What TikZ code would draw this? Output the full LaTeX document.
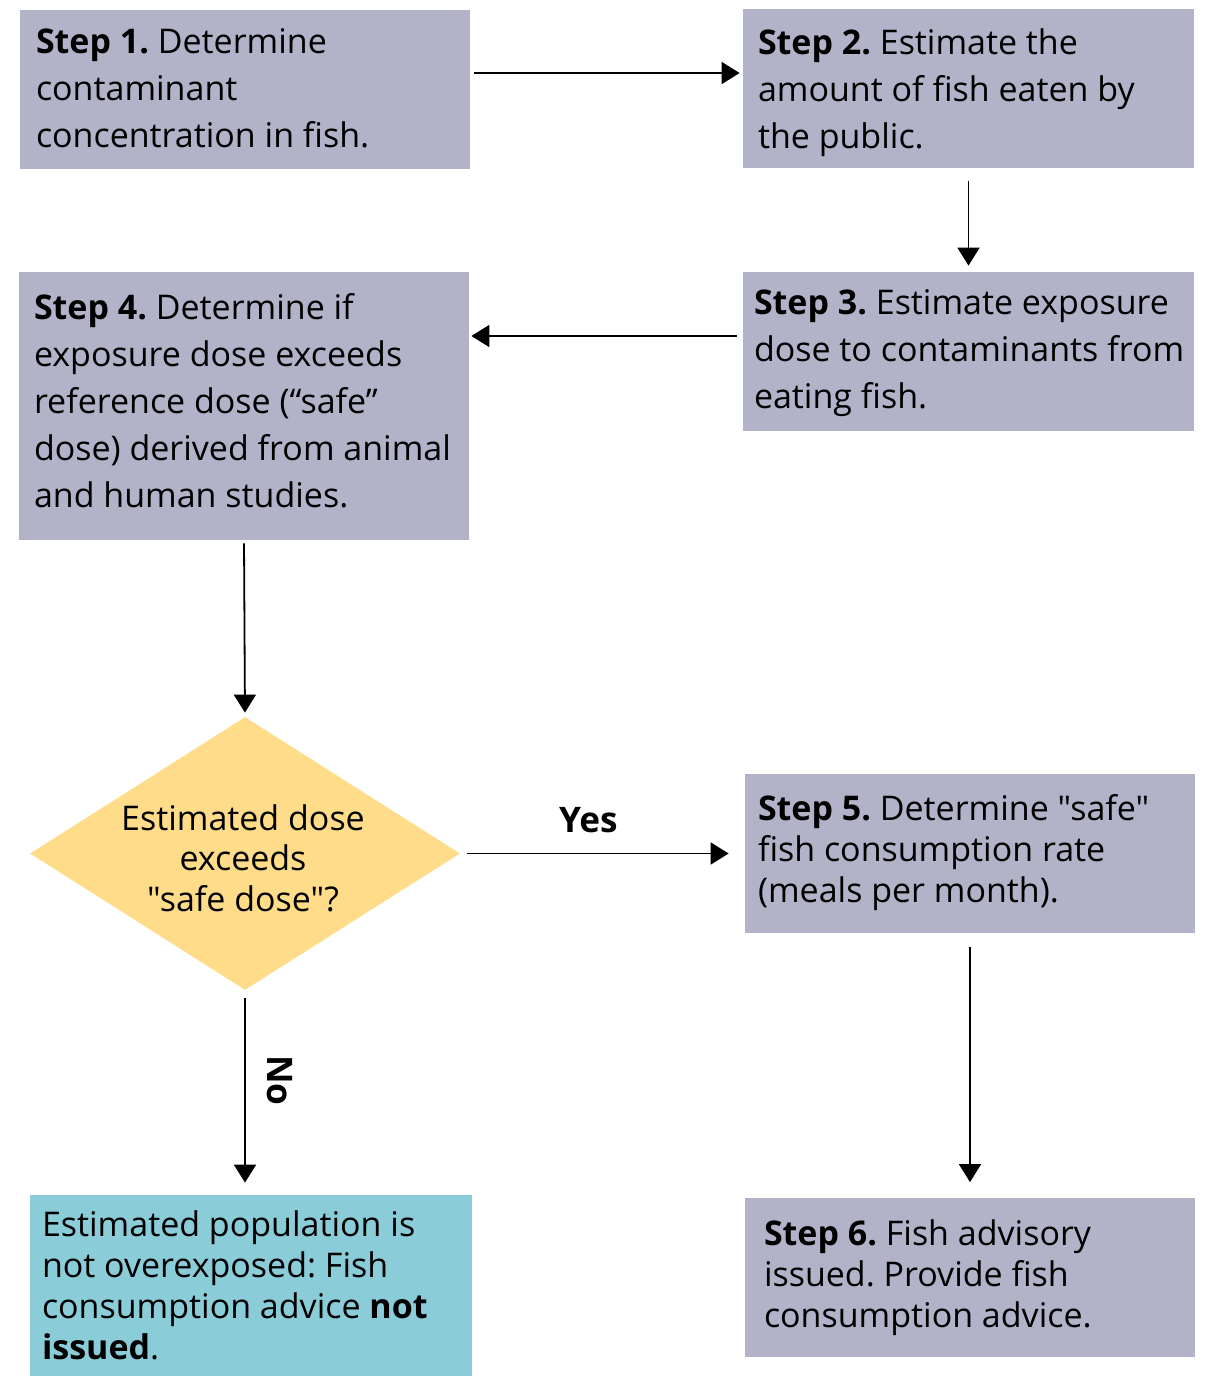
\documentclass[tikz,border=0pt]{standalone}
\usepackage{fontspec}
\setmainfont{Open Sans}[Ligatures=TeXOff]
\usetikzlibrary{shapes.geometric,arrows.meta,calc}
\definecolor{boxgray}{HTML}{B2B3C9}
\definecolor{diayellow}{HTML}{FEDC89}
\definecolor{boxteal}{HTML}{8BCCD9}
\begin{document}
\frenchspacing
\begin{tikzpicture}[x=0.5pt,y=-0.5pt,
  rect/.style={rectangle,fill=boxgray,minimum width=225pt,minimum height=79.5pt,inner sep=0pt},
  uptext/.style={anchor=west,align=left,inner sep=0pt,
     font=\fontsize{17pt}{23.5pt}\selectfont\frenchspacing},
  lowtext/.style={anchor=west,align=left,inner sep=0pt,
     font=\fontsize{17pt}{20.5pt}\selectfont\frenchspacing},
  lbl/.style={font=\fontsize{17.6pt}{20pt}\selectfont\bfseries,inner sep=0pt},
  arr/.style={-{Triangle[length=9pt,width=11pt]},line width=0.9pt,black}]
\path[use as bounding box] (0,0) rectangle (1207,1376);
% boxes
\node[rect] (b1) at (245,89) {};
\node[rect,minimum width=225.5pt] (b2) at (968.5,88.5) {};
\node[rect,minimum width=225.5pt] (b3) at (968.5,351.5) {};
\node[rect,minimum height=134pt] (b4) at (244,406) {};
\node[rect] (b5) at (970,853.5) {};
\node[rect] (b6) at (970,1277) {};
\node[rect,fill=boxteal,minimum width=221pt,minimum height=90.5pt] (b7) at (251,1285.5) {};
% box texts
\node[uptext] (t1) at ([xshift=8pt,yshift=0.25pt]b1.west)
  {\textbf{Step 1.} Determine\\contaminant\\concentration in fish.};
\node[uptext] (t2) at ([xshift=7.5pt,yshift=-2.25pt]b2.west)
  {\textbf{Step 2.} Estimate the\\amount of fish eaten by\\the public.};
\node[uptext] (t3) at ([xshift=5.5pt,yshift=-1pt]b3.west)
  {\textbf{Step 3.} Estimate exposure\\dose to contaminants from\\eating fish.};
\node[uptext] (t4) at ([xshift=7.5pt,yshift=2.5pt]b4.west)
  {\textbf{Step 4.} Determine if\\exposure dose exceeds\\reference dose (“safe”\\dose) derived from animal\\and human studies.};
\node[lowtext] (t5) at ([xshift=6.5pt,yshift=0.25pt]b5.west)
  {\textbf{Step 5.} Determine "safe"\\fish consumption rate\\(meals per month).};
\node[lowtext] (t6) at ([xshift=9.5pt,yshift=-0.5pt]b6.west)
  {\textbf{Step 6.} Fish advisory\\issued. Provide fish\\consumption advice.};
\node[lowtext] (t7) at ([xshift=6pt]b7.west)
  {Estimated population is\\not overexposed: Fish\\consumption advice \textbf{not}\\\textbf{issued}.};
% decision
\node[diamond,fill=diayellow,aspect=1.575,minimum width=215pt,minimum height=136.5pt,inner sep=0pt] (dia) at (245,853.5) {};
\node[align=center,font=\fontsize{17pt}{20.25pt}\selectfont,inner sep=0pt] (diatext) at (243,858)
  {Estimated dose\\exceeds\\"safe dose"?};
% connectors
\coordinate (a1) at ([yshift=8pt]b1.east);
\draw[arr,shorten <=2pt,shorten >=1.5pt] (a1) -- (a1 -| b2.west);
\draw[arr,shorten <=6.5pt,shorten >=3pt] (b2.south) -- (b3.north);
\coordinate (a3) at ([yshift=7.75pt]b3.west);
\draw[arr,shorten <=3pt,shorten >=1pt] (a3) -- (a3 -| b4.east);
\draw[arr,shorten <=1.5pt,shorten >=2pt] (b4.south) -- (dia.north);
\draw[arr,shorten <=3.5pt,shorten >=8pt] (dia.east) -- node[lbl,above=10pt,pos=0.45] (yes) {Yes} (b5.west);
\draw[arr,shorten <=4pt,shorten >=6pt] (dia.south) -- node[lbl,rotate=-90,anchor=south,yshift=10.5pt,pos=0.44] (no) {No} (dia.south |- b7.north);
\draw[arr,shorten <=7pt,shorten >=7.5pt] (b5.south) -- (b6.north);
\end{tikzpicture}
\end{document}
